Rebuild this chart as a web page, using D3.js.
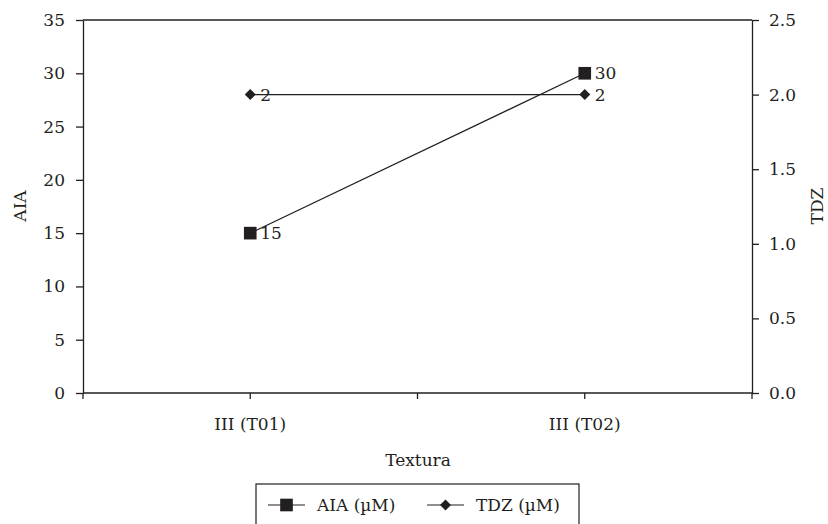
<!DOCTYPE html>
<html>
<head>
<meta charset="utf-8">
<script src="https://cdn.jsdelivr.net/npm/d3@7"></script>
<style>
  body { margin: 0; background: #fff; }
  svg { display: block; }
  text { font-family: "DejaVu Serif", "Liberation Serif", serif; fill: #231f20; }
</style>
</head>
<body>
<svg width="828" height="524"></svg>
<script>
// data
var categories = ["III (T01)", "III (T02)"]
var aiaValues = [15, 30]
var tdzValues = [2, 2]
var leftTicks = [0, 5, 10, 15, 20, 25, 30, 35]
var rightTicks = [0, 0.5, 1, 1.5, 2, 2.5]

var ink = "#231f20"
var fnt = '"DejaVu Serif", "Liberation Serif", serif'
var fs = "17px"
var svg = d3.select("svg")

var plotL = 83, plotR = 752, plotT = 20, plotB = 393

var x = d3.scaleBand().domain(categories).range([plotL, plotR])
var yL = d3.scaleLinear().domain([0, 35]).range([plotB, plotT])
var yR = d3.scaleLinear().domain([0, 2.5]).range([plotB, plotT])

// frame top line
svg.append("line")
  .attr("x1", plotL).attr("x2", plotR).attr("y1", plotT).attr("y2", plotT)
  .attr("stroke", ink).attr("stroke-width", 1.3)

// left axis
var gl = svg.append("g")
  .attr("transform", `translate(${plotL},0)`)
  .call(d3.axisLeft(yL).tickValues(leftTicks).tickSize(7).tickSizeOuter(0).tickPadding(11))
// right axis
var gr = svg.append("g")
  .attr("transform", `translate(${plotR},0)`)
  .call(d3.axisRight(yR).tickValues(rightTicks).tickFormat(d3.format(".1f")).tickSize(7).tickSizeOuter(0).tickPadding(10))

// bottom axis: ticks at band edges and centers
var edgeTicks = []
categories.forEach(function(c){ edgeTicks.push(x(c)) })
edgeTicks.push(plotR)
var gb = svg.append("g").attr("transform", `translate(0,${plotB})`)
gb.append("line").attr("x1", plotL).attr("x2", plotR)
  .attr("stroke", ink).attr("stroke-width", 1.3)
gb.selectAll(".edge").data(edgeTicks).enter().append("line")
  .attr("x1", d => d).attr("x2", d => d).attr("y1", 0).attr("y2", 6)
  .attr("stroke", ink).attr("stroke-width", 1.3)
gb.selectAll(".mid").data(categories).enter().append("line")
  .attr("x1", d => x(d) + x.bandwidth()/2).attr("x2", d => x(d) + x.bandwidth()/2)
  .attr("y1", 0).attr("y2", 6)
  .attr("stroke", ink).attr("stroke-width", 1.3)
gb.selectAll(".lab").data(categories).enter().append("text")
  .attr("x", d => x(d) + x.bandwidth()/2).attr("y", 37)
  .attr("text-anchor", "middle").style("font-size", fs)
  .text(d => d)

;[gl, gr].forEach(function(g){
  g.select(".domain").attr("stroke", ink).attr("stroke-width", 1.3)
  g.selectAll(".tick line").attr("stroke", ink).attr("stroke-width", 1.3)
  g.selectAll(".tick text").style("font-size", fs).attr("fill", ink)
    .style("font-family", fnt)
})

// axis titles
svg.append("text").attr("transform", "translate(26,206) rotate(-90)")
  .attr("text-anchor", "middle").style("font-size", fs).text("AIA")
svg.append("text").attr("transform", "translate(823,206) rotate(-90)")
  .attr("text-anchor", "middle").style("font-size", fs).text("TDZ")
svg.append("text").attr("x", 418).attr("y", 466)
  .attr("text-anchor", "middle").style("font-size", fs).text("Textura")

var cx = d => x(d) + x.bandwidth()/2
var sq = d3.symbol().type(d3.symbolSquare).size(160)
var dia = d3.symbol().type(d3.symbolSquare).size(60)

// TDZ series
svg.append("path")
  .datum(categories.map((c, i) => [cx(c), yR(tdzValues[i])]))
  .attr("d", d3.line()).attr("fill", "none").attr("stroke", ink).attr("stroke-width", 1.2)
// AIA series
svg.append("path")
  .datum(categories.map((c, i) => [cx(c), yL(aiaValues[i])]))
  .attr("d", d3.line()).attr("fill", "none").attr("stroke", ink).attr("stroke-width", 1.2)

categories.forEach(function(c, i){
  svg.append("path").attr("d", dia)
    .attr("transform", `translate(${cx(c)},${yR(tdzValues[i])}) rotate(45)`).attr("fill", ink)
  svg.append("text").attr("x", cx(c) + 10).attr("y", yR(tdzValues[i]) + 6)
    .style("font-size", fs).text(tdzValues[i])
  svg.append("path").attr("d", sq)
    .attr("transform", `translate(${cx(c)},${yL(aiaValues[i])})`).attr("fill", ink)
  svg.append("text").attr("x", cx(c) + 10).attr("y", yL(aiaValues[i]) + 6)
    .style("font-size", fs).text(aiaValues[i])
})

// legend
var lg = svg.append("g").attr("transform", "translate(256,484)")
lg.append("rect").attr("width", 323).attr("height", 44)
  .attr("fill", "#fff").attr("stroke", ink).attr("stroke-width", 1.2)
var legendItems = [
  {name: "AIA (\u00b5M)", sym: sq, rot: 0, x0: 12},
  {name: "TDZ (\u00b5M)", sym: dia, rot: 45, x0: 171}
]
legendItems.forEach(function(d){
  lg.append("line").attr("x1", d.x0).attr("x2", d.x0 + 37).attr("y1", 21).attr("y2", 21)
    .attr("stroke", ink).attr("stroke-width", 1.2)
  lg.append("path").attr("d", d.sym)
    .attr("transform", `translate(${d.x0 + 18.5},21) rotate(${d.rot})`).attr("fill", ink)
  lg.append("text").attr("x", d.x0 + 49).attr("y", 27).style("font-size", fs).text(d.name)
})
</script>
</body>
</html>
